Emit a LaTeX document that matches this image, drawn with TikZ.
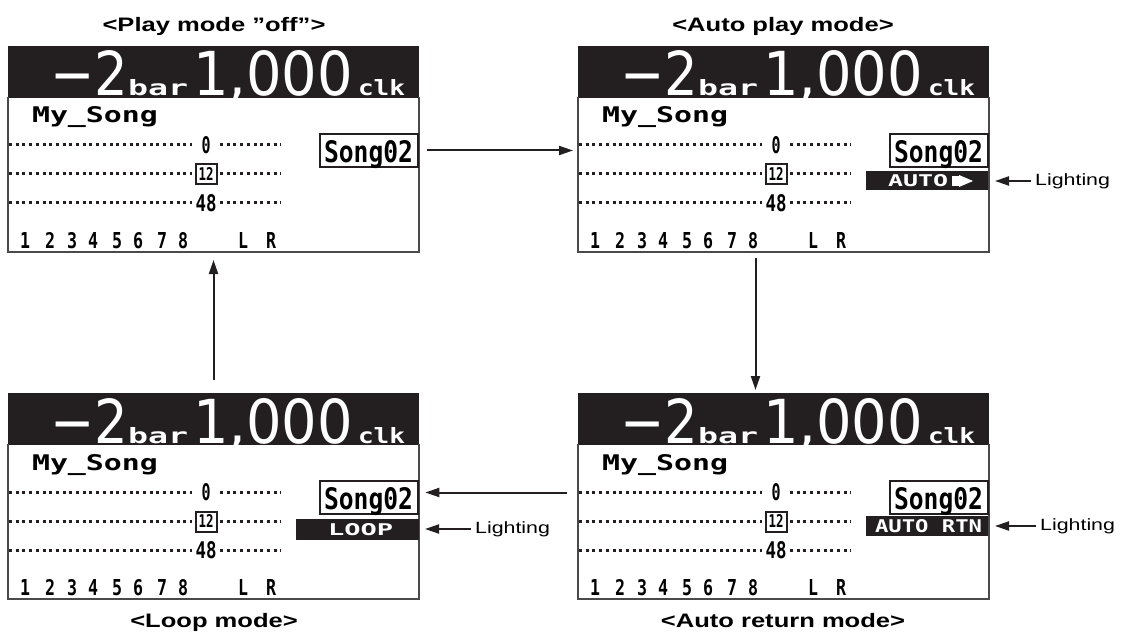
\documentclass[tikz,border=0pt]{standalone}
\usepackage{fontspec}
\setmainfont{Liberation Sans}
\newfontfamily\lcdmono{DejaVu Sans Mono}
\newfontfamily\lcdsans{DejaVu Sans}
\usetikzlibrary{arrows.meta,calc}
\definecolor{lcdink}{HTML}{231F20}
\definecolor{frameline}{HTML}{4A4A4A}
\newcommand\fitbox[3]{\resizebox{#1pt}{#2pt}{#3}}
\newcommand\ttl[1]{\scalebox{1.31}[1]{\bfseries\fontsize{19.5}{22}\selectfont #1}}
\newcommand\lit{\scalebox{1.31}[1]{\fontsize{16.3}{18}\selectfont Lighting}}
\tikzset{
  lcdtext/.style={anchor=base west, inner sep=0pt, outer sep=0pt},
  lcdtextc/.style={anchor=base, inner sep=0pt, outer sep=0pt},
  meterdots/.style={line width=3pt, dash pattern=on 3pt off 3.7pt, lcdink},
  indbar/.style={fill=lcdink, inner sep=0pt, outer sep=0pt, minimum width=122pt},
  flow/.style={line width=2pt, lcdink, -{Triangle[length=14pt,width=9pt]}},
  titlenode/.style={anchor=base, inner sep=0pt},
  litnode/.style={anchor=base west, inner sep=0pt},
  lcd/.pic={
    \node[minimum width=411pt, minimum height=206pt, anchor=north west, inner sep=0pt, outer sep=0pt] (-frame) at (0,0) {};
    \fill[lcdink] (0,0) rectangle (411,52);
    \draw[frameline, line width=1.6pt] (0,51) -- (0,206) -- (411,206) -- (411,51);
    \node[lcdtext, text=white] (-neg) at (42,50) {\fitbox{78}{45}{\lcdsans −2}};
    \node[lcdtext, text=white] (-bar) at (120,50) {\fitbox{60}{16}{\lcdmono\bfseries bar}};
    \node[lcdtext, text=white] (-clk) at (185,50) {\fitbox{160}{45}{\lcdsans 1,000}};
    \node[lcdtext, text=white] (-unit) at (350,50) {\fitbox{47}{16}{\lcdmono\bfseries clk}};
    \node[lcdtext] (-name) at (24,77) {\fitbox{126}{16}{\lcdmono\bfseries My\_Song}};
    \foreach \yy in {99,128,157} {
      \draw[meterdots] (1,\yy) -- (184,\yy);
      \draw[meterdots] (212,\yy) -- (273,\yy);
    }
    \node[lcdtextc] (-m0) at (198,107.5) {\fitbox{9}{17}{\lcdmono\bfseries 0}};
    \node[draw=lcdink, line width=2pt, minimum width=21pt, minimum height=20pt, inner sep=0pt] (-m12) at (198,128.5) {};
    \node[lcdtextc] at (198,134.5) {\fitbox{15}{13}{\lcdmono\bfseries 12}};
    \node[lcdtextc] (-m48) at (198,165.5) {\fitbox{21}{17}{\lcdmono\bfseries 48}};
    \foreach \cx/\ct in {17/1,42/2,64/3,85/4,109/5,130/6,154/7,175/8,235/L,263/R}
      \node[lcdtextc] at (\cx,202) {\fitbox{10}{16}{\lcdmono\bfseries \ct}};
    \node[draw=lcdink, line width=2.6pt, minimum width=98pt, minimum height=33pt, inner sep=0pt] (-song) at (361,104.5) {};
    \node[lcdtext] (-songtxt) at (316,116.5) {\fitbox{89}{22}{\lcdmono\bfseries Song02}};
  }
}
\begin{document}
\begin{tikzpicture}[x=1pt,y=-1pt]
\useasboundingbox (0,0) rectangle (1135,639);
\fill[white] (0,0) rectangle (1135,639);

% titles
\node[titlenode] (t1) at (214,32) {\ttl{<Play mode "off">}};
\node[titlenode] (t2) at (783,32) {\ttl{<Auto play mode>}};
\node[titlenode] (t3) at (214,627) {\ttl{<Loop mode>}};
\node[titlenode] (t4) at (783,627) {\ttl{<Auto return mode>}};

% panels
\pic (p1) at (8,46) {lcd};
\pic (p2) at (578,46) {lcd};
\pic (p3) at (8,393) {lcd};
\pic (p4) at (578,393) {lcd};

% indicator bars
\node[indbar, minimum height=19pt] (ind2) at (927,181) {};
\node[lcdtext, text=white] at (888,187) {\fitbox{60}{12}{\lcdmono\bfseries AUTO}};
\fill[white] (952,176) rectangle (959,186);
\fill[white] (959,175) -- (973,181) -- (959,187) -- cycle;

\node[indbar, minimum height=21pt, minimum width=123pt] (ind3) at (357.5,529) {};
\node[lcdtext, text=white] at (328,535) {\fitbox{65}{12}{\lcdmono\bfseries LOOP}};

\node[indbar, minimum height=20pt] (ind4) at (927,526) {};
\node[lcdtext, text=white] at (875,532.5) {\fitbox{107}{13}{\lcdmono\bfseries AUTO RTN}};

% Lighting labels
\node[litnode] (l2) at (1035,185.5) {\lit};
\node[litnode] (l3) at (475,533.5) {\lit};
\node[litnode] (l4) at (1040,530.5) {\lit};

\draw[flow] ([xshift=-4pt]l2.west |- ind2.east) -- ([xshift=7pt]ind2.east);
\draw[flow] ([xshift=-4pt]l3.west |- ind3.east) -- ([xshift=6pt]ind3.east);
\draw[flow] ([xshift=-4pt]l4.west |- ind4.east) -- ([xshift=7pt]ind4.east);

% mode cycle arrows
\draw[flow] ([xshift=8pt]p1-song.east) -- ([xshift=-5pt]p2-frame.west |- p1-song.east);
\draw[flow, shorten <=6pt, shorten >=3pt] ([xshift=-28pt]p2-frame.south) -- ([xshift=-28pt]p4-frame.north);
\coordinate (a3end) at ($(p3-song.east)+(6,-5)$);
\draw[flow] ([xshift=-11pt]p4-frame.west |- a3end) -- (a3end);
\draw[flow, shorten <=13pt, shorten >=8pt] (p3-frame.north) -- (p1-frame.south);
\end{tikzpicture}
\end{document}
